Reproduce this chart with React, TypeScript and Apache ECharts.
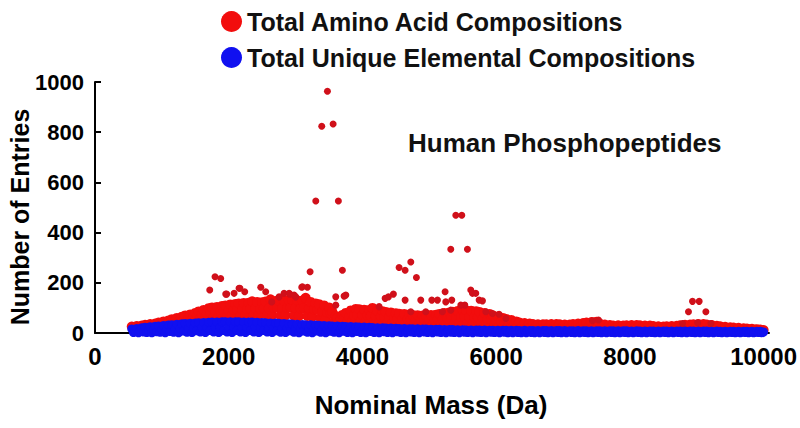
import React, { useEffect, useRef } from "react";
import * as echarts from "echarts";

// Nominal mass grid (Da) for the dense per-mass series
const massStart = 550;
const massStep = 25;

// Total Amino Acid Compositions (dense band), one value per mass step
const redCounts = [
  26, 21, 25, 28, 22, 26, 30, 27,
  33, 28, 31, 36, 29, 33, 38, 34,
  42, 34, 39, 46, 36, 42, 50, 44,
  55, 42, 50, 60, 45, 54, 65, 56,
  70, 50, 62, 74, 53, 65, 80, 68,
  86, 58, 73, 92, 61, 79, 99, 82,
  102, 64, 84, 104, 66, 86, 108, 88,
  110, 67, 90, 114, 69, 92, 116, 94,
  118, 69, 94, 120, 71, 96, 121, 97,
  126, 71, 98, 124, 72, 96, 123, 98,
  125, 70, 98, 134, 71, 100, 127, 101,
  128, 69, 99, 130, 70, 100, 131, 101,
  132, 68, 100, 130, 67, 98, 129, 99,
  140, 68, 98, 124, 65, 94, 118, 92,
  115, 58, 85, 110, 56, 82, 102, 78,
  85, 46, 68, 60, 44, 56, 72, 58,
  80, 46, 64, 90, 50, 70, 96, 72,
  95, 48, 72, 93, 47, 70, 92, 68,
  100, 46, 68, 88, 44, 66, 87, 64,
  84, 42, 62, 82, 40, 60, 79, 58,
  77, 38, 57, 76, 37, 56, 74, 55,
  72, 36, 54, 71, 35, 53, 70, 52,
  70, 34, 52, 72, 35, 54, 73, 55,
  76, 35, 56, 80, 36, 58, 82, 60,
  85, 38, 62, 88, 39, 64, 91, 66,
  90, 38, 64, 89, 38, 63, 87, 62,
  84, 37, 58, 80, 36, 56, 76, 54,
  70, 31, 48, 66, 30, 46, 60, 44,
  56, 26, 39, 52, 25, 37, 46, 35,
  42, 21, 31, 40, 20, 30, 38, 29,
  36, 19, 27, 35, 18, 27, 35, 26,
  35, 19, 27, 36, 18, 27, 36, 27,
  35, 18, 27, 34, 18, 26, 34, 26,
  36, 19, 28, 38, 19, 29, 40, 30,
  42, 20, 32, 44, 21, 33, 45, 34,
  38, 19, 28, 34, 18, 26, 32, 25,
  30, 17, 24, 31, 16, 24, 30, 23,
  31, 17, 24, 32, 17, 25, 32, 24,
  31, 16, 24, 30, 16, 23, 30, 23,
  28, 15, 22, 27, 15, 21, 26, 21,
  27, 15, 21, 28, 15, 22, 29, 22,
  31, 16, 24, 33, 17, 25, 34, 26,
  35, 18, 27, 36, 18, 27, 36, 27,
  34, 17, 26, 32, 16, 24, 29, 23,
  27, 14, 21, 25, 14, 19, 23, 18,
  22, 12, 17, 21, 12, 16, 19, 15,
  18, 11, 15, 17, 10, 14, 15, 13,
  14, 10, 12,
];

// Total Unique Elemental Compositions, one value per mass step
const blueCounts = [
  16, 2, 8, 18, 1, 10, 21, 4,
  23, 2, 12, 25, 1, 13, 27, 5,
  28, 3, 14, 30, 1, 15, 32, 6,
  33, 3, 17, 35, 1, 18, 37, 8,
  38, 3, 19, 39, 2, 20, 40, 9,
  41, 4, 21, 42, 2, 22, 43, 10,
  44, 4, 22, 44, 2, 23, 45, 10,
  45, 4, 23, 45, 2, 23, 45, 10,
  45, 4, 22, 44, 2, 22, 44, 10,
  44, 4, 22, 43, 2, 21, 42, 10,
  41, 4, 20, 40, 2, 20, 40, 9,
  39, 3, 19, 38, 2, 19, 37, 9,
  36, 3, 18, 35, 1, 17, 34, 8,
  33, 3, 16, 33, 1, 16, 32, 8,
  31, 3, 15, 30, 1, 15, 29, 7,
  28, 3, 14, 28, 1, 14, 27, 7,
  26, 2, 13, 26, 1, 13, 25, 6,
  24, 2, 12, 24, 1, 12, 23, 6,
  22, 2, 11, 21, 1, 11, 21, 5,
  20, 2, 10, 20, 1, 10, 19, 5,
  18, 2, 9, 18, 1, 9, 17, 4,
  17, 2, 9, 17, 1, 8, 16, 4,
  16, 2, 8, 15, 1, 8, 15, 4,
  15, 2, 7, 14, 1, 7, 14, 3,
  14, 2, 7, 13, 1, 7, 13, 3,
  12, 2, 6, 12, 1, 6, 12, 3,
  12, 2, 6, 12, 1, 6, 11, 3,
  11, 2, 5, 11, 1, 5, 11, 3,
  11, 1, 5, 11, 1, 6, 11, 2,
  10, 1, 5, 11, 1, 5, 10, 2,
  10, 1, 5, 10, 1, 5, 10, 2,
  10, 1, 5, 10, 1, 5, 10, 2,
  10, 1, 5, 10, 1, 5, 9, 2,
  9, 1, 5, 10, 1, 4, 9, 2,
  9, 1, 4, 9, 1, 4, 9, 2,
  9, 1, 4, 9, 1, 4, 9, 2,
  9, 1, 4, 9, 1, 4, 9, 2,
  9, 1, 4, 8, 1, 4, 9, 2,
  8, 1, 4, 8, 1, 4, 8, 2,
  8, 1, 4, 8, 1, 4, 8, 2,
  8, 1, 4, 8, 1, 4, 8, 2,
  8, 1, 4, 8, 1, 4, 8, 2,
  8, 1, 4, 8, 1, 4, 8, 2,
  8, 1, 4, 7, 1, 4, 8, 2,
  7, 1, 4, 7, 1, 3, 7, 2,
  7, 1, 3, 7, 1, 3, 7, 2,
  7, 1, 3, 7, 1, 3, 7, 2,
  7, 1, 4,
];

// Isolated amino-acid-composition points above the dense band
const redOutlierMass = [
  1716, 1795, 1880, 1955, 2080, 2154, 2239, 2479, 2553, 2643,
  2753, 2828, 2912, 3002, 3092, 3177, 3217, 3302, 3391, 3476,
  3561, 3640, 3700, 3601, 3725, 3751, 4339, 4389, 4463, 4548,
  4638, 4723, 4807, 4638, 4872, 5037, 5122, 5236, 5246, 5321,
  5396, 5486, 5570, 5336, 5531, 5620, 5645, 5695, 5745, 5795,
  5845, 5945, 6044, 6145, 4723, 4947, 5196, 3601, 4249, 7441,
  7530, 8876, 8936, 9036, 9136, 8787, 9012, 9212, 2903, 2978,
  3102, 5471, 5321, 1970, 2168,
];
const redOutlierCount = [
  171, 224, 217, 155, 158, 178, 164, 182, 164, 124,
  144, 158, 155, 144, 182, 182, 244, 526, 824, 963,
  833, 526, 250, 144, 147, 151, 138, 144, 155, 261,
  250, 283, 221, 131, 131, 131, 131, 164, 124, 334,
  469, 469, 334, 131, 111, 171, 158, 158, 131, 128,
  85, 78, 75, 58, 85, 85, 85, 111, 105, 49,
  52, 85, 126, 126, 85, 38, 41, 38, 158, 151,
  184, 111, 91, 155, 178,
];

const xTicks = { min: 0, max: 10080, interval: 2000 };
const yTicks = { min: 0, max: 1000, interval: 200 };

const RED_NAME = "Total Amino Acid Compositions";
const BLUE_NAME = "Total Unique Elemental Compositions";
const FONT = '"Liberation Sans", Arial, Helvetica, sans-serif';

export default function App() {
  const ref = useRef<HTMLDivElement | null>(null);

  useEffect(() => {
    if (!ref.current) return;
    const chart = echarts.init(ref.current, undefined, { renderer: "svg" });

    const redData = redCounts.map((v, i) => [massStart + i * massStep, v]);
    const blueData = blueCounts.map((v, i) => [massStart + i * massStep, v]);
    const outlierData = redOutlierMass.map((m, i) => [m, redOutlierCount[i]]);

    chart.setOption({
      animation: false,
      backgroundColor: "#ffffff",
      textStyle: { fontFamily: FONT },
      grid: { left: 95, right: 31, top: 82, bottom: 95, containLabel: false },
      legend: {
        orient: "vertical",
        left: 216,
        top: 4,
        itemWidth: 21,
        itemHeight: 21,
        itemGap: 11,
        selectedMode: false,
        data: [
          { name: RED_NAME, icon: "circle" },
          { name: BLUE_NAME, icon: "circle" },
        ],
        textStyle: {
          fontFamily: FONT,
          fontSize: 25,
          fontWeight: "bold",
          color: "#111",
        },
      },
      xAxis: {
        type: "value",
        min: xTicks.min,
        max: xTicks.max,
        interval: xTicks.interval,
        splitLine: { show: false },
        axisLine: { lineStyle: { color: "#000", width: 2 } },
        axisTick: { inside: true, length: 6, lineStyle: { color: "#000", width: 2 } },
        axisLabel: {
          showMaxLabel: false,
          margin: 11,
          formatter: (v: number) => String(v),
          fontFamily: FONT,
          fontSize: 24,
          fontWeight: "bold",
          color: "#000",
        },
      },
      yAxis: {
        type: "value",
        min: yTicks.min,
        max: yTicks.max,
        interval: yTicks.interval,
        splitLine: { show: false },
        axisLine: { show: true, lineStyle: { color: "#000", width: 2 } },
        axisTick: { show: true, inside: true, length: 6, lineStyle: { color: "#000", width: 2 } },
        axisLabel: {
          margin: 11,
          formatter: (v: number) => String(v),
          fontFamily: FONT,
          fontSize: 22,
          fontWeight: "bold",
          color: "#000",
        },
      },
      graphic: [
        {
          type: "text",
          x: 20,
          y: 217,
          rotation: Math.PI / 2,
          style: {
            text: "Number of Entries",
            fontFamily: FONT,
            fontSize: 25,
            fontWeight: "bold",
            fill: "#000",
            textAlign: "center",
            textVerticalAlign: "middle",
          },
        },
        {
          type: "text",
          x: 431,
          y: 405,
          style: {
            text: "Nominal Mass (Da)",
            fontFamily: FONT,
            fontSize: 26,
            fontWeight: "bold",
            fill: "#000",
            textAlign: "center",
            textVerticalAlign: "middle",
          },
        },
        {
          type: "text",
          x: 408,
          y: 143,
          style: {
            text: "Human Phosphopeptides",
            fontFamily: FONT,
            fontSize: 26,
            fontWeight: "bold",
            fill: "#111",
            textAlign: "left",
            textVerticalAlign: "middle",
          },
        },
      ],
      series: [
        {
          name: RED_NAME,
          type: "scatter",
          data: redData,
          symbol: "circle",
          symbolSize: 10,
          itemStyle: { color: "#f20d0d", opacity: 1 },
          silent: true,
        },
        {
          name: RED_NAME,
          type: "scatter",
          data: outlierData,
          symbol: "circle",
          symbolSize: 7,
          itemStyle: { color: "#d0101a", opacity: 1 },
          silent: true,
        },
        {
          name: BLUE_NAME,
          type: "scatter",
          data: blueData,
          symbol: "circle",
          symbolSize: 9,
          itemStyle: { color: "#1010f0", opacity: 1 },
          silent: true,
        },
      ],
    });

    return () => {
      chart.dispose();
    };
  }, []);

  return (
    <div
      ref={ref}
      style={{ position: "fixed", left: 0, top: 0, width: 800, height: 428 }}
    />
  );
}
